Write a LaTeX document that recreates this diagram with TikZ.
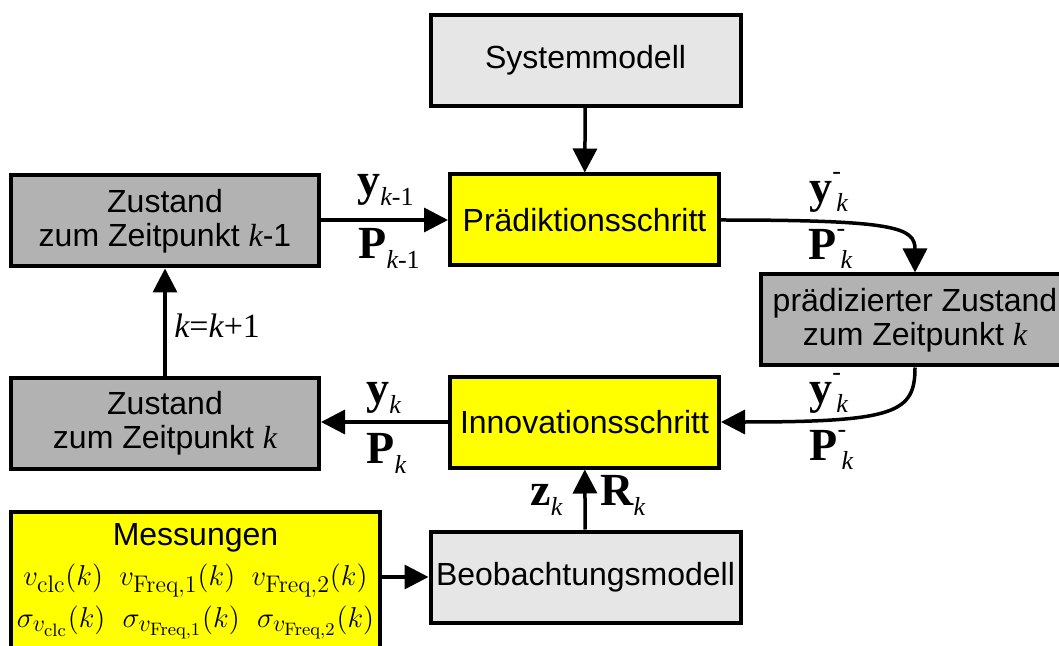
\documentclass[tikz,border=0pt]{standalone}
\usepackage[no-math]{fontspec}
\setmainfont{Liberation Sans}
\newfontfamily\tnr{Liberation Serif}
\usetikzlibrary{arrows.meta,positioning}
\definecolor{boxyellow}{RGB}{255,255,0}
\definecolor{darkgrey}{RGB}{178,178,178}
\definecolor{lightgrey}{RGB}{230,230,230}
\DeclareMathSizes{14.4}{14.4}{12}{9}
\newcommand{\kit}{{\tnr\itshape k}}
% bold vector/matrix with subscript
\newcommand{\vsub}[2]{{\tnr\bfseries\fontsize{23}{23}\selectfont #1}{\tnr\fontsize{13}{13}\selectfont\raisebox{-5pt}{#2}}}
% bold vector/matrix with "-" and subscript k
\newcommand{\vpri}[1]{{\tnr\bfseries\fontsize{23}{23}\selectfont #1}{\tnr\fontsize{13}{13}\selectfont\rlap{\raisebox{11.5pt}{-}}\hspace{2pt}\raisebox{-4.5pt}{\itshape k}}}
\newcommand{\mline}[1]{{\fontsize{14.4}{18}\selectfont #1}}
\tikzset{
  blk/.style={draw=black,line width=2pt,minimum width=154pt,minimum height=45.5pt,align=center,inner sep=2pt,font=\fontsize{16}{17}\selectfont},
  model/.style={blk,fill=lightgrey,minimum width=155pt},
  stepblk/.style={blk,fill=boxyellow,minimum width=134.5pt},
  zust/.style={blk,fill=darkgrey},
  vlabel/.style={inner sep=0pt,anchor=base west},
  arr/.style={-{Triangle[length=12pt,width=12pt]},draw=black,line width=1.75pt}
}

\begin{document}
\begin{tikzpicture}[x=0.5pt,y=-0.5pt]
  \useasboundingbox (0,0) rectangle (1059,646);
  \clip (0,0) rectangle (1059,646);

  \node[model] (sys) at (585.5,60.5) {Systemmodell};
  \node[stepblk] (pred) at (584.5,220) {Prädiktionsschritt};
  \node[stepblk] (innov) at (584.5,422) {Innovationsschritt};
  \node[zust] (zkm) at (165,221) {Zustand\\zum Zeitpunkt \kit-1};
  \node[zust] (zk) at (165,423) {Zustand\\zum Zeitpunkt \kit};
  \node[zust] (praed) at (915,320) {prädizierter Zustand\\zum Zeitpunkt \kit};
  \node[model] (beob) at (585.5,577) {Beobachtungsmodell};
  \node[blk,fill=boxyellow,minimum width=184.5pt,minimum height=70pt,anchor=north] (mess) at (195.5,509.5)
    {{\fontsize{16}{20}\selectfont Messungen}\\[3pt]
     \mline{$v_{\mathrm{clc}}(k)$\hspace{0.57em}$v_{\mathrm{Freq,1}}(k)$\hspace{0.57em}$v_{\mathrm{Freq,2}}(k)$}\\[4pt]
     \mline{$\sigma_{v_{\mathrm{clc}}}(k)$\hspace{0.6em}$\sigma_{v_{\mathrm{Freq,1}}}(k)$\hspace{0.6em}$\sigma_{v_{\mathrm{Freq,2}}}(k)$}};

  % labels
  \node[vlabel] (ykm) at (357,196) {\vsub{y}{{\itshape k}-1}};
  \node[vlabel] (pkm) at (358,259) {\vsub{P}{{\itshape k}-1}};
  \node[vlabel] (ypa) at (809,203) {\vpri{y}};
  \node[vlabel] (ppa) at (808,260) {\vpri{P}};
  \node[vlabel] (ypb) at (809,403) {\vpri{y}};
  \node[vlabel] (ppb) at (809,460) {\vpri{P}};
  \node[vlabel] (yk) at (366,403) {\vsub{y}{\itshape k}};
  \node[vlabel] (pk) at (366,463) {\vsub{P}{\itshape k}};
  \node[vlabel] (zmk) at (530,505) {\vsub{z}{\itshape k}};
  \node[vlabel] (rk) at (600,505) {\vsub{R}{\itshape k}};
  \node[vlabel,font=\tnr\fontsize{17}{17}\selectfont] (kinc) at (174,337) {\itshape k\upshape=\itshape k\upshape+1};

  % connections
  \draw[arr] (sys) -- (pred);
  \draw[arr] (zkm.east |- pred.west) -- (pred.west);
  \draw[arr] (pred.east) .. controls +(175,0) and +(0,-45) .. (praed.north);
  \draw[arr] (praed.south) .. controls +(0,45) and +(175,0) .. (innov.east);
  \draw[arr] (innov.west) -- (zk.east |- innov.west);
  \draw[arr] (zk) -- (zkm);
  \draw[arr] (beob) -- (innov);
  \draw[arr] (mess.east |- beob.west) -- (beob.west);
\end{tikzpicture}
\end{document}
